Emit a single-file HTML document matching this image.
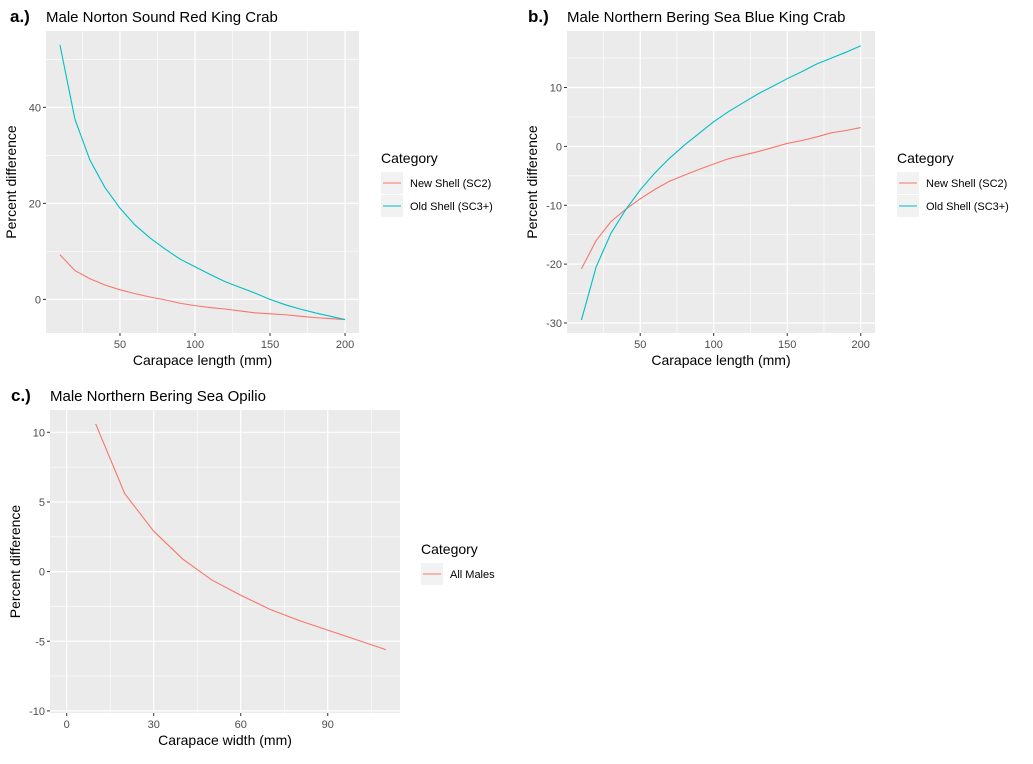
<!DOCTYPE html>
<html><head><meta charset="utf-8"><style>
body{margin:0;background:#fff;font-family:"Liberation Sans",Arial,sans-serif}
svg text{font-family:"Liberation Sans",Arial,sans-serif}
</style></head><body>
<svg id="s" width="1033" height="759" xmlns="http://www.w3.org/2000/svg"></svg>
<script>
const xsA=[10,20,30,40,50,60,70,80,90,100,110,120,130,140,150,160,170,180,190,200];
const aNew=[9.3,6,4.3,3,2,1.2,0.5,-0.1,-0.8,-1.3,-1.7,-2,-2.4,-2.8,-3,-3.2,-3.5,-3.8,-4,-4.2];
const aOld=[53,37.5,29,23.3,19,15.5,12.8,10.5,8.4,6.8,5.2,3.7,2.5,1.3,0,-1.1,-2,-2.8,-3.5,-4.2];
const bNew=[-20.8,-16,-12.8,-10.7,-8.9,-7.3,-5.9,-4.9,-3.9,-3,-2.1,-1.5,-0.9,-0.2,0.5,1,1.6,2.3,2.7,3.2];
const bOld=[-29.5,-20.5,-14.8,-10.8,-7.4,-4.5,-2,0.2,2.2,4.2,5.9,7.4,8.9,10.2,11.5,12.7,14,15,16,17.1];
const xsC=[10,20,30,40,50,60,70,80,90,100,110];
const cAll=[10.6,5.6,2.9,0.9,-0.6,-1.7,-2.7,-3.5,-4.2,-4.9,-5.6];
const aXTicks=[50,100,150,200], aYTicks=[0,20,40];
const bXTicks=[50,100,150,200], bYTicks=[-30,-20,-10,0,10];
const cXTicks=[0,30,60,90], cYTicks=[-10,-5,0,5,10];
const RED="#F8766D", CYAN="#00BFC4";
const S=document.getElementById('s'), NS="http://www.w3.org/2000/svg";
function mk(t,a,p){const e=document.createElementNS(NS,t);for(const k in a)e.setAttribute(k,a[k]);(p||S).appendChild(e);return e;}
function txt(x,y,s,a){const e=mk('text',Object.assign({x:x,y:y},a||{}));e.textContent=s;return e;}
function panel(o){
  const g=mk('g',{});
  
  
  const sx=v=>o.px0+(v-o.xd[0])/(o.xd[1]-o.xd[0])*(o.px1-o.px0);
  const sy=v=>o.py1-(v-o.yd[0])/(o.yd[1]-o.yd[0])*(o.py1-o.py0);
  const bg=mk('rect',{x:o.px0,y:o.py0,width:o.px1-o.px0,height:o.py1-o.py0,fill:"#EBEBEB"},g);
  
  const dx=o.xt[1]-o.xt[0], dy=o.yt[1]-o.yt[0];
  for(let v=o.xt[0]-dx/2;v<=o.xd[1];v+=dx){if(v>=o.xd[0])mk('line',{x1:sx(v),x2:sx(v),y1:o.py0,y2:o.py1,stroke:"#fff","stroke-width":0.6},g);}
  for(let v=o.yt[0]-dy/2;v<=o.yd[1];v+=dy){if(v>=o.yd[0])mk('line',{y1:sy(v),y2:sy(v),x1:o.px0,x2:o.px1,stroke:"#fff","stroke-width":0.6},g);}
  o.xt.forEach(v=>{mk('line',{x1:sx(v),x2:sx(v),y1:o.py0,y2:o.py1,stroke:"#fff","stroke-width":1.2},g);
    mk('line',{x1:sx(v),x2:sx(v),y1:o.py1,y2:o.py1+3,stroke:"#333","stroke-width":1},g);
    const t=txt(sx(v),o.py1+15,String(v),{"text-anchor":"middle","font-size":11,fill:"#4D4D4D"});g.appendChild(t);
    });
  o.yt.forEach(v=>{mk('line',{y1:sy(v),y2:sy(v),x1:o.px0,x2:o.px1,stroke:"#fff","stroke-width":1.2},g);
    mk('line',{y1:sy(v),y2:sy(v),x1:o.px0-3,x2:o.px0,stroke:"#333","stroke-width":1},g);
    const t=txt(o.px0-5,sy(v)+4,String(v),{"text-anchor":"end","font-size":11,fill:"#4D4D4D"});g.appendChild(t);
    });
  o.series.forEach(s=>{const p=mk('polyline',{points:s.x.map((x,i)=>sx(x)+','+sy(s.y[i])).join(' '),fill:"none",stroke:s.c,"stroke-width":1.1},g);
    });
  let t=txt((o.px0+o.px1)/2,o.py1+32,o.xlab,{"text-anchor":"middle","font-size":14,fill:"#000"});g.appendChild(t);
  
  const cy=(o.py0+o.py1)/2;
  t=txt(0,0,"Percent difference",{"text-anchor":"middle","font-size":14,fill:"#000",transform:`translate(${o.px0-30},${cy}) rotate(-90)`});g.appendChild(t);
  
  t=txt(o.tx,o.py0-9,o.title,{"font-size":15,fill:"#000"});g.appendChild(t);
  
  t=txt(o.lx,o.py0-9,o.tag,{"font-size":17,"font-weight":"bold",fill:"#000"});g.appendChild(t);
  
  const lg=mk('g',{},g);
  txt(o.legx,o.legy,"Category",{"font-size":14,fill:"#000"});lg.appendChild(S.lastChild);
  o.series.forEach((s,i)=>{const y=o.legy+9+i*23;
    mk('rect',{x:o.legx,y:y,width:22,height:22,fill:"#F2F2F2"},lg);
    mk('line',{x1:o.legx+2,x2:o.legx+20,y1:y+11,y2:y+11,stroke:s.c,"stroke-width":1.1},lg);
    const e=txt(o.legx+29,y+15,s.label,{"font-size":11,fill:"#000"});lg.appendChild(e);
    });
}
panel({name:'panel-a',tag:'a.)',title:'Male Norton Sound Red King Crab',lx:10,tx:46,px0:46,px1:359,py0:31,py1:333,xd:[0.7,209.3],yd:[-7.0,55.9],xt:aXTicks,yt:aYTicks,xlab:'Carapace length (mm)',legx:381,legy:163,
 series:[{x:xsA,y:aNew,c:RED,n:'line-new-shell',label:'New Shell (SC2)'},{x:xsA,y:aOld,c:CYAN,n:'line-old-shell',label:'Old Shell (SC3+)'}]});
panel({name:'panel-b',tag:'b.)',title:'Male Northern Bering Sea Blue King Crab',lx:528,tx:567,px0:567,px1:875,py0:31,py1:333,xd:[0.2,209.7],yd:[-31.7,19.6],xt:bXTicks,yt:bYTicks,xlab:'Carapace length (mm)',legx:897,legy:163,
 series:[{x:xsA,y:bNew,c:RED,n:'line-new-shell',label:'New Shell (SC2)'},{x:xsA,y:bOld,c:CYAN,n:'line-old-shell',label:'Old Shell (SC3+)'}]});
panel({name:'panel-c',tag:'c.)',title:'Male Northern Bering Sea Opilio',lx:11,tx:50,px0:50,px1:400,py0:410,py1:713,xd:[-5.75,114.9],yd:[-10.15,11.6],xt:cXTicks,yt:cYTicks,xlab:'Carapace width (mm)',legx:421,legy:554,
 series:[{x:xsC,y:cAll,c:RED,n:'line-all-males',label:'All Males'}]});
</script>
</body></html>
